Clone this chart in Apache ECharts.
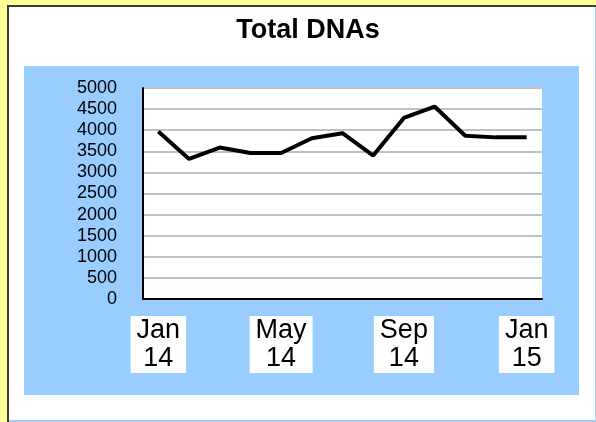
<!DOCTYPE html>
<html><head><meta charset="utf-8">
<script src="https://cdn.jsdelivr.net/npm/echarts@6/dist/echarts.min.js"></script>
<style>html,body{margin:0;padding:0;background:#ffff99;}#c{width:596px;height:422px;}</style>
</head><body><div id="c"></div>
<script>
const categories = ['Jan 14','Feb 14','Mar 14','Apr 14','May 14','Jun 14','Jul 14','Aug 14','Sep 14','Oct 14','Nov 14','Dec 14','Jan 15'];
const totalDNAs = [3970, 3320, 3590, 3460, 3460, 3810, 3930, 3400, 4290, 4560, 3870, 3830, 3830];
const yTicks = [0, 500, 1000, 1500, 2000, 2500, 3000, 3500, 4000, 4500, 5000];

const chart = echarts.init(document.getElementById('c'));
const font = '"Liberation Sans", Arial, sans-serif';
chart.setOption({
  animation: false,
  backgroundColor: '#ffff99',
  graphic: [
    {type:'rect', shape:{x:7,y:5,width:589,height:417}, style:{fill:'#3c3c2c'}, z:-10},
    {type:'rect', shape:{x:9,y:7,width:587,height:415}, style:{fill:'#a8ccf4'}, z:-9},
    {type:'rect', shape:{x:9,y:7,width:586,height:413}, style:{fill:'#ffffff'}, z:-8},
    {type:'rect', shape:{x:24,y:66,width:555,height:329}, style:{fill:'#99ccff'}, z:-7}
  ],
  title: {
    text: 'Total DNAs', left: 303, top: 12, textAlign: 'center',
    textStyle: {fontFamily: font, fontSize: 27, fontWeight: 'bold', color: '#000'}
  },
  grid: {left:143, top:88, right:54, bottom:123, show:true, backgroundColor:'#ffffff', borderWidth:0},
  xAxis: {
    type: 'category', data: categories, boundaryGap: true,
    axisLine: {show:true, lineStyle:{color:'#000', width:2}},
    axisTick: {show:false},
    axisLabel: {
      interval: 3, margin: 17, color:'#000', fontFamily: font, fontSize: 27, lineHeight: 28,
      backgroundColor:'#ffffff', padding:[1,6,0,6],
      formatter: v => v.replace(' ', '\n')
    }
  },
  yAxis: {
    type: 'value', min: 0, max: 5000, interval: 500,
    axisLine: {show:true, lineStyle:{color:'#000', width:2}},
    axisTick: {show:false},
    axisLabel: {margin: 26, color:'#000', fontFamily: font, fontSize: 18,
      formatter: v => yTicks.includes(v) ? String(v) : ''},
    splitLine: {show:true, lineStyle:{color:'#c0c0c0', width:2}}
  },
  series: [{
    type: 'line', data: totalDNAs, symbol: 'none',
    lineStyle: {color:'#000', width:4}
  }]
});
</script></body></html>
